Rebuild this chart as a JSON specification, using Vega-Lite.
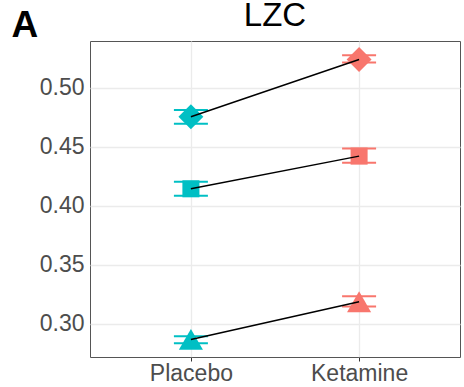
{
  "$schema": "https://vega.github.io/schema/vega-lite/v6.json",
  "width": 370,
  "height": 316,
  "autosize": {"type": "none"},
  "padding": {"left": 90, "top": 41, "right": 4, "bottom": 30},
  "background": "white",
  "title": {"text": "LZC", "fontSize": 33, "font": "Liberation Sans", "fontWeight": "normal", "color": "black", "anchor": "middle", "frame": "group", "offset": -27},
  "config": {
    "view": {"stroke": "#555555", "strokeWidth": 1},
    "font": "Liberation Sans",
    "axisY": {
      "values": [0.275, 0.3, 0.325, 0.35, 0.375, 0.4, 0.425, 0.45, 0.475, 0.5, 0.525],
      "labelExpr": "abs(datum.value*20 - round(datum.value*20)) < 0.01 ? format(datum.value, '.2f') : ''",
      "grid": true,
      "gridColor": "#EBEBEB",
      "gridWidth": {"condition": {"test": "abs(datum.value*20 - round(datum.value*20)) < 0.01", "value": 1.3}, "value": 0.7},
      "tickOpacity": {"condition": {"test": "abs(datum.value*20 - round(datum.value*20)) < 0.01", "value": 1}, "value": 0},
      "tickColor": "#333333",
      "tickSize": 4,
      "tickWidth": 1,
      "domain": false,
      "labelFontSize": 23,
      "labelColor": "#4D4D4D",
      "labelPadding": 2,
      "titleAngle": 0,
      "titleFontSize": 37,
      "titleFontWeight": "bold",
      "titleColor": "black",
      "titleAlign": "left",
      "titleBaseline": "alphabetic",
      "titleX": -79,
      "titleY": -5
    },
    "axisX": {
      "grid": true,
      "gridColor": "#EBEBEB",
      "gridWidth": 1.3,
      "tickColor": "#333333",
      "tickSize": 4,
      "domain": false,
      "labelFontSize": 23,
      "labelColor": "#4D4D4D",
      "labelPadding": 1,
      "labelAngle": 0
    }
  },
  "data": {
    "values": [
      {"condition": "Placebo", "marker": "diamond", "mean": 0.4755, "lo": 0.4696, "hi": 0.4812},
      {"condition": "Ketamine", "marker": "diamond", "mean": 0.524, "lo": 0.5215, "hi": 0.5277},
      {"condition": "Placebo", "marker": "square", "mean": 0.4144, "lo": 0.4085, "hi": 0.4203},
      {"condition": "Ketamine", "marker": "square", "mean": 0.4421, "lo": 0.4365, "hi": 0.4486},
      {"condition": "Placebo", "marker": "triangle", "mean": 0.2867, "lo": 0.2835, "hi": 0.2893},
      {"condition": "Ketamine", "marker": "triangle", "mean": 0.3186, "lo": 0.3147, "hi": 0.3232}
    ]
  },
  "encoding": {
    "x": {"field": "condition", "type": "nominal", "sort": ["Placebo", "Ketamine"], "scale": {"type": "point", "padding": 0.6}, "title": null},
    "color": {"field": "condition", "type": "nominal", "scale": {"domain": ["Placebo", "Ketamine"], "range": ["#00BFC4", "#F8766D"]}, "legend": null}
  },
  "layer": [
    {
      "mark": {"type": "rule", "strokeWidth": 2},
      "encoding": {
        "y": {"field": "lo", "type": "quantitative", "title": "A", "scale": {"domain": [0.2718, 0.5397], "nice": false, "zero": false}},
        "y2": {"field": "hi"}
      }
    },
    {
      "mark": {"type": "tick", "size": 34, "thickness": 2, "opacity": 1},
      "encoding": {"y": {"field": "lo", "type": "quantitative", "title": "A"}}
    },
    {
      "mark": {"type": "tick", "size": 34, "thickness": 2, "opacity": 1},
      "encoding": {"y": {"field": "hi", "type": "quantitative", "title": "A"}}
    },
    {
      "mark": {"type": "point", "filled": true, "opacity": 1},
      "encoding": {
        "y": {"field": "mean", "type": "quantitative", "title": "A"},
        "shape": {"field": "marker", "type": "nominal", "scale": {"domain": ["diamond", "square", "triangle"], "range": ["diamond", "square", "triangle-up"]}, "legend": null},
        "size": {"field": "marker", "type": "nominal", "scale": {"type": "ordinal", "domain": ["diamond", "square", "triangle"], "range": [620, 290, 580]}, "legend": null}
      }
    },
    {
      "mark": {"type": "line", "color": "black", "strokeWidth": 1.5},
      "encoding": {
        "y": {"field": "mean", "type": "quantitative", "title": "A"},
        "detail": {"field": "marker", "type": "nominal"},
        "color": {"value": "black"}
      }
    }
  ]
}
